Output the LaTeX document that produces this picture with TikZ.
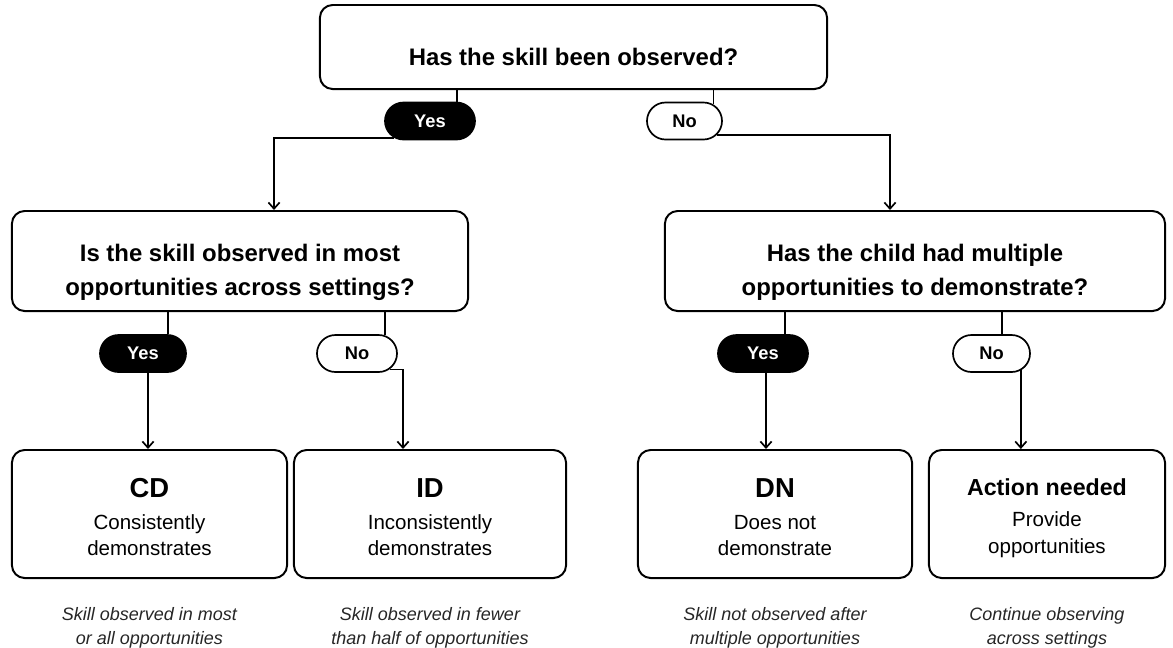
\documentclass[tikz,border=0pt]{standalone}
\usepackage{fontspec}
\setmainfont{Liberation Sans}
\usetikzlibrary{
    arrows,
    arrows.meta,
    shapes.misc,
    calc,
    positioning
}
\tikzset{
    qbox/.style={draw, line width=1.4pt, rounded corners=9pt, align=center,
        font=\fontsize{17}{24}\selectfont\bfseries},
    rbox/.style={draw, line width=1.4pt, rounded corners=9pt, align=center,
        minimum height=3.2cm, font=\fontsize{14.6}{18.5}\selectfont},
    yespill/.style={rounded rectangle, draw, fill=black, text=white, line width=1.2pt,
        minimum height=0.925cm, inner sep=0pt, font=\fontsize{13}{15}\selectfont\bfseries},
    nopill/.style={rounded rectangle, draw, fill=white, line width=1.2pt,
        minimum height=0.925cm, inner sep=0pt, font=\fontsize{13}{15}\selectfont\bfseries},
    note/.style={align=center, text=black!85, font=\fontsize{12.8}{17}\selectfont\itshape},
    conn/.style={line width=1.2pt}
}
\newcommand{\qlift}[1]{\rule{0pt}{#1}}
\newcommand{\restitle}[2]{{\rule{0pt}{17.5pt}\fontsize{#1}{22}\selectfont\bfseries #2}}

\begin{document}
\begin{tikzpicture}[x=0.025cm, y=-0.025cm, >={Straight Barb[length=4.5pt,width=8pt]}]
    \useasboundingbox (0,0) rectangle (1173,647);

    % questions
    \node[qbox, minimum width=12.675cm, minimum height=2.1cm] (top) at (573.5,47) {\qlift{26pt}Has the skill been observed?};
    \node[qbox, minimum width=11.4cm, minimum height=2.5cm] (obs) at (240,261) {\qlift{28.5pt}Is the skill observed in most\\opportunities across settings?};
    \node[qbox, minimum width=12.5cm, minimum height=2.5cm] (opp) at (915,261) {\qlift{28.5pt}Has the child had multiple\\opportunities to demonstrate?};

    % answers
    \node[yespill, minimum width=2.25cm] (yes1) at (430,121) {Yes};
    \node[nopill, minimum width=1.875cm] (no1) at (684.5,121) {No};
    \node[yespill, minimum width=2.15cm] (yes2) at (143,353.5) {Yes};
    \node[nopill, minimum width=2cm] (no2) at (357,353.5) {No};
    \node[yespill, minimum width=2.25cm] (yes3) at (763,353.5) {Yes};
    \node[nopill, minimum width=1.925cm] (no3) at (991.5,353.5) {No};

    % results
    \node[rbox, minimum width=6.875cm] (cd) at (149.5,514) {\restitle{19.5}{CD}\\[4pt]Consistently\\demonstrates};
    \node[rbox, minimum width=6.8cm] (id) at (430,514) {\restitle{19.5}{ID}\\[4pt]Inconsistently\\demonstrates};
    \node[rbox, minimum width=6.85cm] (dn) at (775,514) {\restitle{19.5}{DN}\\[4pt]Does not\\demonstrate};
    \node[rbox, minimum width=5.9cm] (act) at (1047,514) {\restitle{16.5}{Action needed}\\[4pt]Provide\\opportunities};

    \node[note] (cdnote) at (149.5,628) {Skill observed in most\\or all opportunities};
    \node[note] (idnote) at (430,628) {Skill observed in fewer\\than half of opportunities};
    \node[note] (dnnote) at (775,628) {Skill not observed after\\multiple opportunities};
    \node[note] (actnote) at (1047,628) {Continue observing\\across settings};

    % connectors
    \coordinate (yesup) at ([xshift=0.675cm]yes1.north);
    \coordinate (obsin) at ([xshift=0.85cm]obs.north);
    \coordinate (oppin) at ([xshift=-0.625cm]opp.north);
    \coordinate (cdin) at ([xshift=-0.0375cm]cd.north);
    \coordinate (idin) at ([xshift=-0.675cm]id.north);
    \coordinate (dnin) at ([xshift=-0.225cm]dn.north);

    \draw[conn] (yesup) -- (yesup |- top.south);
    \draw[conn] (no1.30) -- (no1.30 |- top.south);
    \draw[conn, ->] (yes1.-155) -| (obsin);
    \draw[conn, ->] (no1.-24) -| (oppin);

    \draw[conn] (yes2.38) -- (yes2.38 |- obs.south);
    \draw[conn] (no2.33) -- (no2.33 |- obs.south);
    \draw[conn, ->] (cdin |- yes2.south) -- (cdin);
    \draw[conn, ->] (no2.-26) -| (idin);

    \draw[conn] (yes3.41) -- (yes3.41 |- opp.south);
    \draw[conn] (no3.62) -- (no3.62 |- opp.south);
    \draw[conn, ->] (dnin |- yes3.south) -- (dnin);
    \draw[conn, ->] (no3.-30) -- (no3.-30 |- act.north);
\end{tikzpicture}
\end{document}
